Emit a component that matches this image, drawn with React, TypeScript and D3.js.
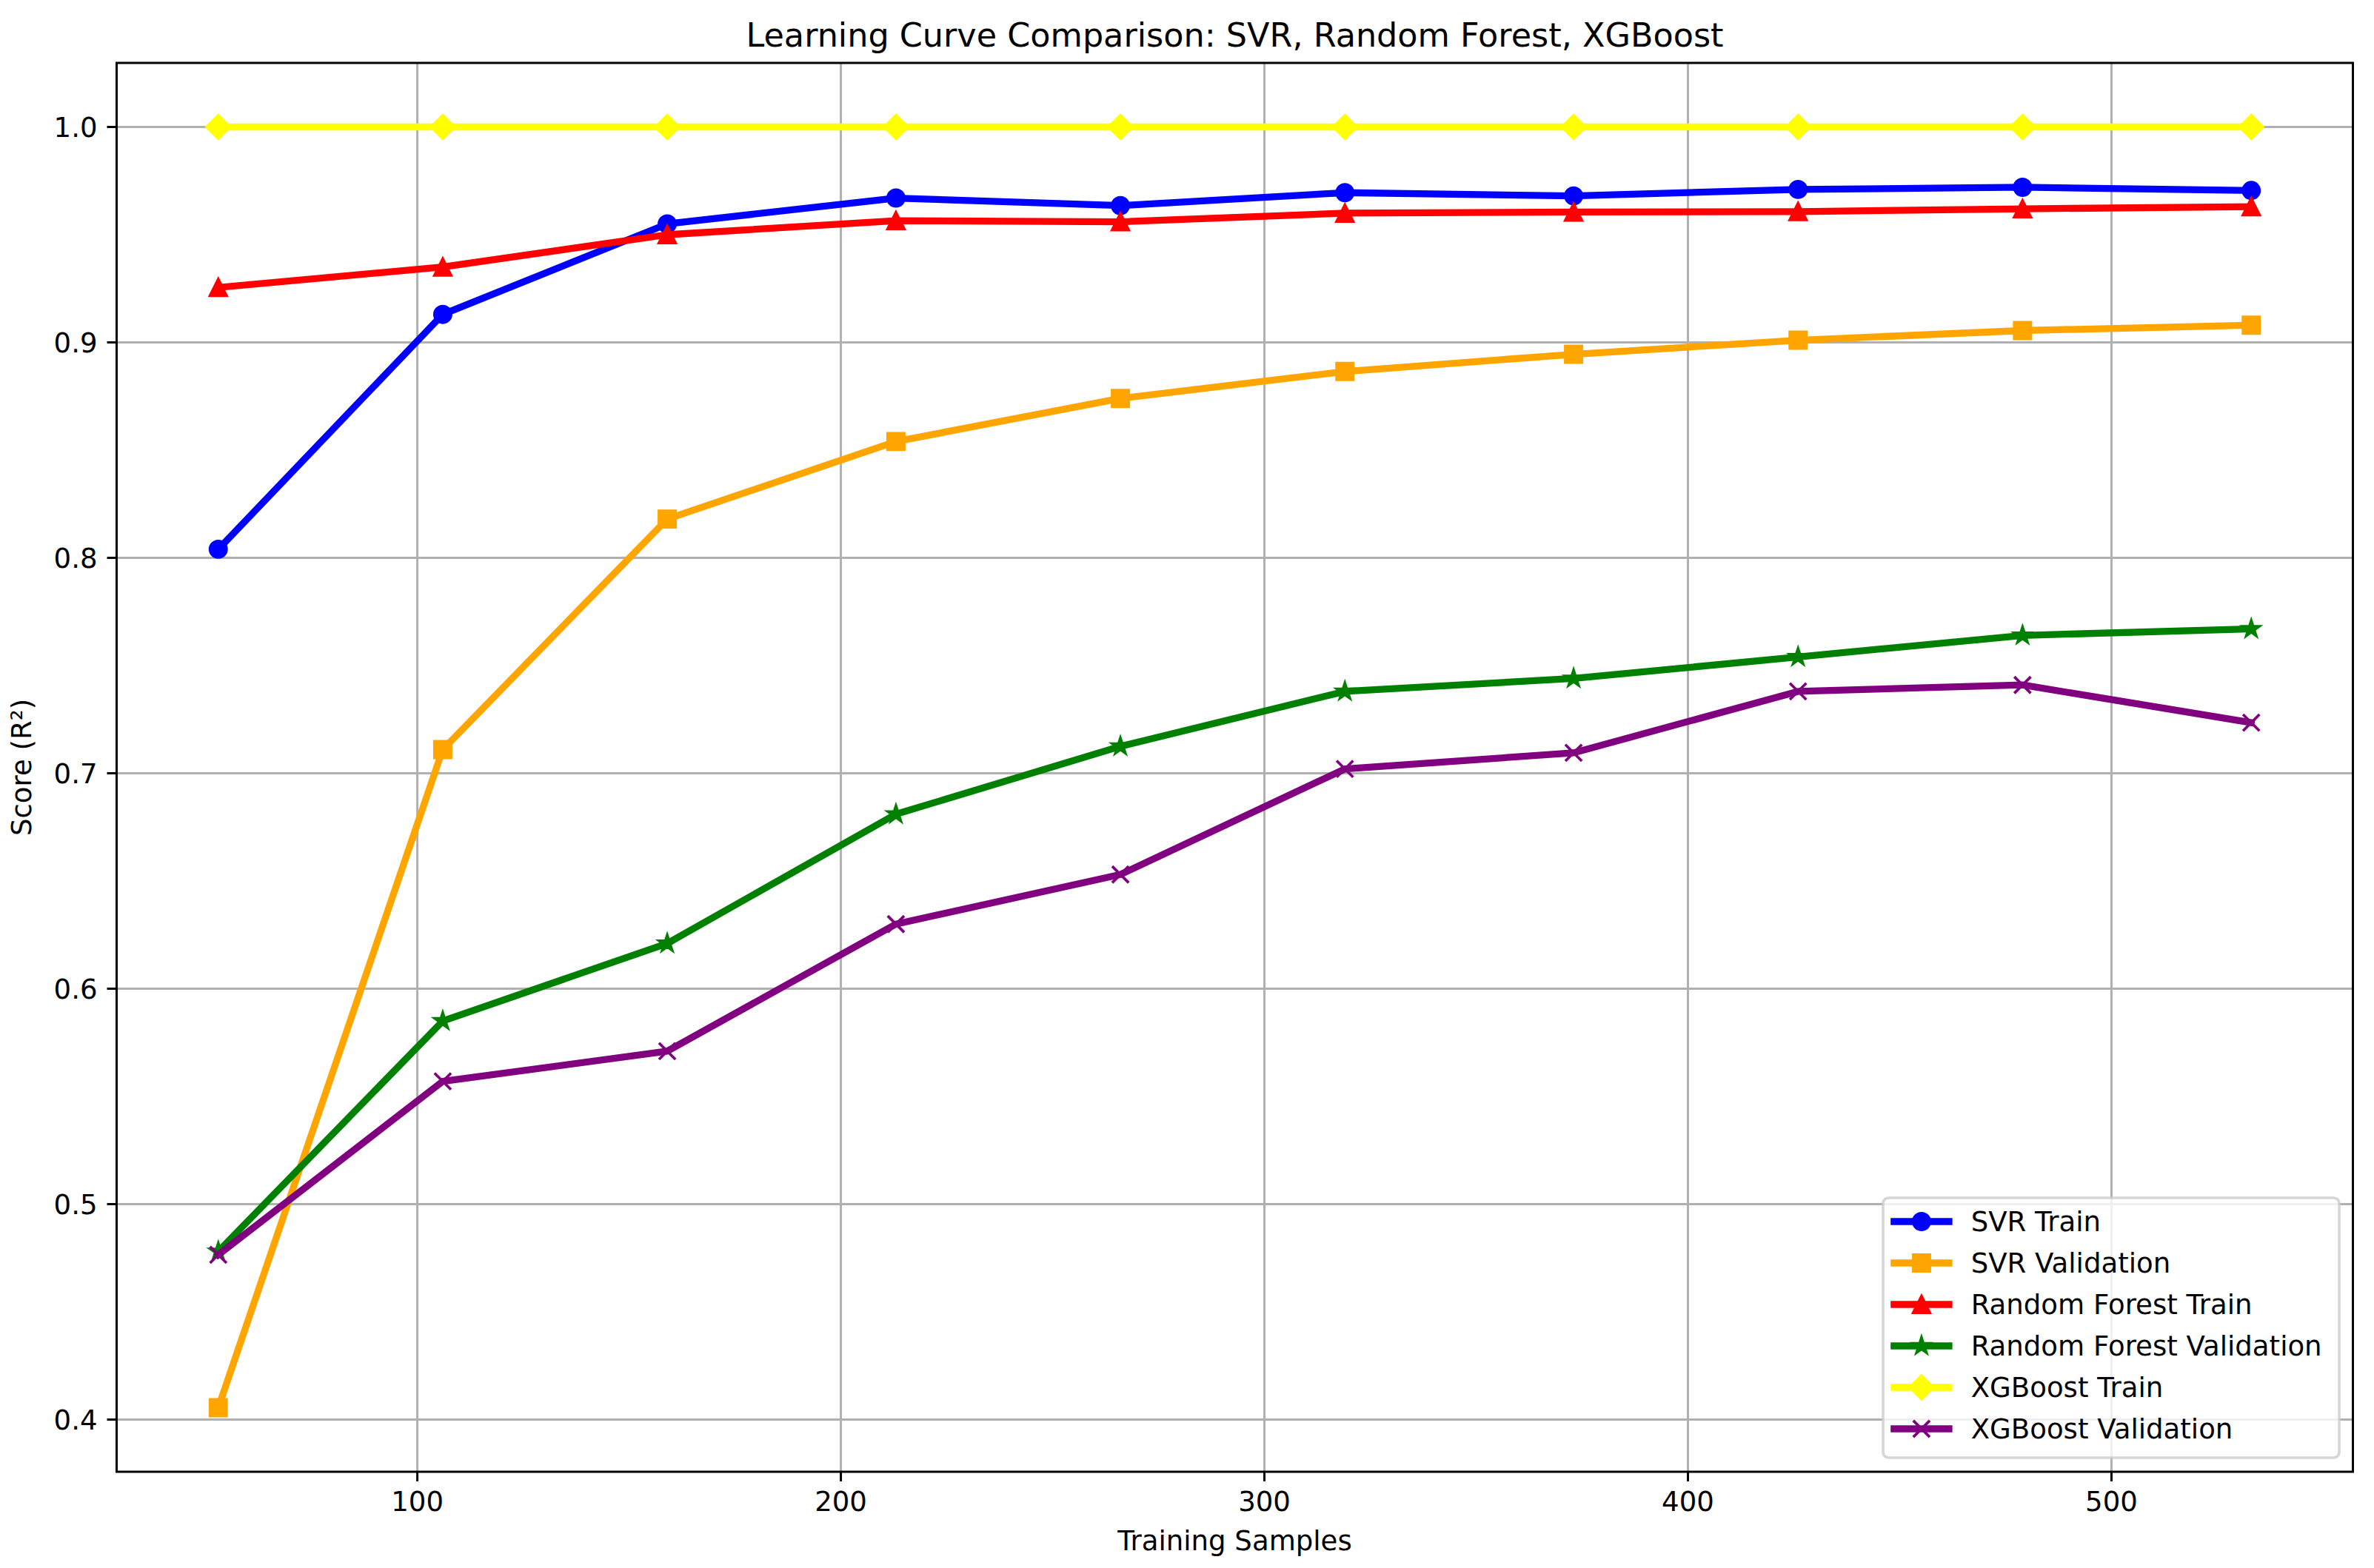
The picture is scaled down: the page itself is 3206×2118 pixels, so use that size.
import * as d3 from 'd3'

const trainSizes = [53, 106, 159, 213, 266, 319, 373, 426, 479, 533]
const svrTrain = [0.804, 0.913, 0.955, 0.967, 0.9635, 0.9695, 0.968, 0.971, 0.972, 0.9705]
const svrVal = [0.4055, 0.711, 0.818, 0.854, 0.874, 0.8865, 0.8945, 0.901, 0.9055, 0.908]
const rfTrain = [0.9255, 0.935, 0.95, 0.9565, 0.956, 0.96, 0.9605, 0.9607, 0.962, 0.963]
const rfVal = [0.478, 0.585, 0.621, 0.681, 0.7125, 0.738, 0.744, 0.754, 0.764, 0.767]
const xgbTrain = [1, 1, 1, 1, 1, 1, 1, 1, 1, 1]
const xgbVal = [0.4765, 0.557, 0.571, 0.63, 0.653, 0.702, 0.7095, 0.738, 0.741, 0.7235]

const seriesNames = ['SVR Train', 'SVR Validation', 'Random Forest Train', 'Random Forest Validation', 'XGBoost Train', 'XGBoost Validation']
const seriesColors = ['blue', 'orange', 'red', 'green', 'yellow', 'purple']
const seriesMarkers = ['o', 's', '^', '*', 'D', 'x']
const seriesValues = [svrTrain, svrVal, rfTrain, rfVal, xgbTrain, xgbVal]

const titleText = 'Learning Curve Comparison: SVR, Random Forest, XGBoost'
const xLabel = 'Training Samples'
const yLabel = 'Score (R²)'

// figure metrics (dpi ~267)
const W = 3206
const H = 2118
const PT = 267 / 72
const FONT = '"DejaVu Sans", sans-serif'
const m = { left: 157.5, right: 3177.5, top: 85, bottom: 1988 }
const MS = 6 * PT

function markerPath(kind: string) {
  const r = MS / 2
  switch (kind) {
    case 'o':
      return d3.arc()({ innerRadius: 0, outerRadius: r, startAngle: 0, endAngle: Math.PI * 2 }) as string
    case 's':
      return `M${-r},${-r}H${r}V${r}H${-r}Z`
    case '^':
      return `M0,${-r}L${r},${r}L${-r},${r}Z`
    case 'D': {
      const d = r * Math.SQRT2
      return `M0,${-d}L${d},0L0,${d}L${-d},0Z`
    }
    case '*': {
      const pts: string[] = []
      for (let i = 0; i < 10; i++) {
        const rr = i % 2 === 0 ? r : r * 0.381966
        const a = (i * Math.PI) / 5
        pts.push(`${rr * Math.sin(a)},${-rr * Math.cos(a)}`)
      }
      return 'M' + pts.join('L') + 'Z'
    }
    default:
      return `M${-r},${-r}L${r},${r}M${-r},${r}L${r},${-r}`
  }
}

function Marker({ kind, color, x, y }: { kind: string; color: string; x: number; y: number }) {
  const filled = kind !== 'x'
  return (
    <path
      d={markerPath(kind)}
      transform={`translate(${x},${y})`}
      fill={filled ? color : 'none'}
      stroke={color}
      strokeWidth={PT}
      strokeLinejoin="miter"
    />
  )
}

export default function App() {
  const allY = seriesValues.flat()
  const xMin = d3.min(trainSizes)!, xMax = d3.max(trainSizes)!
  const yMin = d3.min(allY)!, yMax = d3.max(allY)!
  const xPad = (xMax - xMin) * 0.05
  const yPad = (yMax - yMin) * 0.05

  const x = d3.scaleLinear().domain([xMin - xPad, xMax + xPad]).range([m.left, m.right])
  const y = d3.scaleLinear().domain([yMin - yPad, yMax + yPad]).range([m.bottom, m.top])

  const xTicks = x.ticks(5)
  const yTicks = y.ticks(6)

  const line = d3.line<number>()
    .x((_, i) => x(trainSizes[i]))
    .y(d => y(d))

  const tickLen = 3.5 * PT
  const fs = 10 * PT

  // legend
  const lg = { x0: 2543, x1: 3159, y0: 1618, y1: 1969 }
  const rowY = (i: number) => 1650 + i * 56
  const hx0 = lg.x0 + 0.4 * fs
  const hx1 = hx0 + 2 * fs

  return (
    <div style={{ position: 'absolute', left: 0, top: 0, background: 'white' }}>
      <svg width={W} height={H} style={{ display: 'block', fontFamily: FONT }}>
        <rect width={W} height={H} fill="white" />
        <defs>
          <clipPath id="plot">
            <rect x={m.left} y={m.top} width={m.right - m.left} height={m.bottom - m.top} />
          </clipPath>
        </defs>

        {/* grid */}
        <g stroke="#b0b0b0" strokeWidth={0.8 * PT}>
          {xTicks.map(t => (
            <line key={'gx' + t} x1={x(t)} x2={x(t)} y1={m.top} y2={m.bottom} />
          ))}
          {yTicks.map(t => (
            <line key={'gy' + t} x1={m.left} x2={m.right} y1={y(t)} y2={y(t)} />
          ))}
        </g>

        {/* series */}
        <g clipPath="url(#plot)">
          {seriesValues.map((vals, si) => (
            <g key={seriesNames[si]}>
              <path d={line(vals) as string} fill="none" stroke={seriesColors[si]} strokeWidth={2.5 * PT} strokeLinejoin="round" strokeLinecap="square" />
              {vals.map((v, i) => (
                <Marker key={i} kind={seriesMarkers[si]} color={seriesColors[si]} x={x(trainSizes[i])} y={y(v)} />
              ))}
            </g>
          ))}
        </g>

        {/* spines */}
        <rect x={m.left} y={m.top} width={m.right - m.left} height={m.bottom - m.top} fill="none" stroke="black" strokeWidth={0.8 * PT} />

        {/* x axis */}
        <g>
          {xTicks.map(t => (
            <g key={'xt' + t}>
              <line x1={x(t)} x2={x(t)} y1={m.bottom} y2={m.bottom + tickLen} stroke="black" strokeWidth={0.8 * PT} />
              <text x={x(t)} y={2041} fontSize={fs} textAnchor="middle" fill="black">{t}</text>
            </g>
          ))}
          <text x={(m.left + m.right) / 2} y={2094} fontSize={fs} textAnchor="middle" fill="black">{xLabel}</text>
        </g>

        {/* y axis */}
        <g>
          {yTicks.map(t => (
            <g key={'yt' + t}>
              <line x1={m.left - tickLen} x2={m.left} y1={y(t)} y2={y(t)} stroke="black" strokeWidth={0.8 * PT} />
              <text x={m.left - tickLen - 3.5 * PT} y={y(t) + 13.5} fontSize={fs} textAnchor="end" fill="black">{d3.format('.1f')(t)}</text>
            </g>
          ))}
          <text transform={`translate(42,${(m.top + m.bottom) / 2}) rotate(-90)`} fontSize={fs} textAnchor="middle" fill="black">{yLabel}</text>
        </g>

        {/* title */}
        <text x={(m.left + m.right) / 2} y={63} fontSize={12 * PT} textAnchor="middle" fill="black">{titleText}</text>

        {/* legend */}
        <g>
          <rect x={lg.x0} y={lg.y0} width={lg.x1 - lg.x0} height={lg.y1 - lg.y0} rx={0.2 * fs} ry={0.2 * fs}
            fill="white" fillOpacity={0.8} stroke="#cccccc" strokeOpacity={0.8} strokeWidth={PT} />
          {seriesNames.map((name, i) => (
            <g key={'lg' + name}>
              <line x1={hx0} x2={hx1} y1={rowY(i)} y2={rowY(i)} stroke={seriesColors[i]} strokeWidth={2.5 * PT} strokeLinecap="square" />
              <Marker kind={seriesMarkers[i]} color={seriesColors[i]} x={(hx0 + hx1) / 2} y={rowY(i)} />
              <text x={hx1 + 0.8 * fs} y={rowY(i) + 13} fontSize={fs} fill="black">{name}</text>
            </g>
          ))}
        </g>
      </svg>
    </div>
  )
}
